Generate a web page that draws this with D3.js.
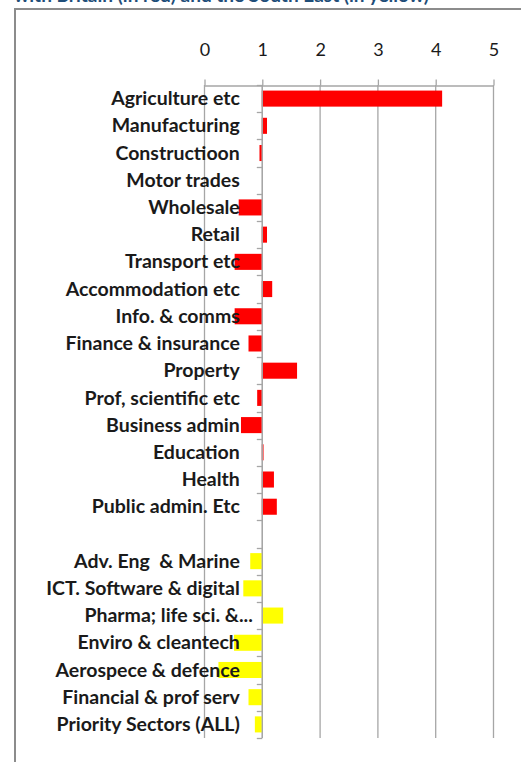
<!DOCTYPE html>
<html>
<head>
<meta charset="utf-8">
<script src="https://cdnjs.cloudflare.com/ajax/libs/d3/7.8.5/d3.min.js"></script>
<style>
    html, body { margin: 0; padding: 0; background: #fff; }
    svg { display: block; }
    .label { white-space: pre; }
</style>
</head>
<body>
<svg id="chart" width="521" height="762"></svg>
<script>
    var titleText = 'with Britain (in red) and the South East (in yellow)';

    var industryNames = [
        'Agriculture etc', 'Manufacturing', 'Constructioon', 'Motor trades',
        'Wholesale', 'Retail', 'Transport etc', 'Accommodation etc',
        'Info. & comms', 'Finance & insurance', 'Property', 'Prof, scientific etc',
        'Business admin', 'Education', 'Health', 'Public admin. Etc'
    ];
    var industryValues = [
        4.12, 1.09, 0.96, 1.00,
        0.60, 1.09, 0.53, 1.18,
        0.53, 0.77, 1.61, 0.92,
        0.64, 1.03, 1.21, 1.26
    ];

    var sectorNames = [
        'Adv. Eng  & Marine', 'ICT. Software & digital', 'Pharma; life sci. &...',
        'Enviro & cleantech', 'Aerospece & defence', 'Financial & prof serv',
        'Priority Sectors (ALL)'
    ];
    var sectorValues = [0.80, 0.68, 1.37, 0.52, 0.25, 0.77, 0.88];

    var axisTicks = [0, 1, 2, 3, 4, 5];
    var baseline = 1;

    var gridColor = '#a6a6a6',
        textColor = '#1a1a1a';

    var rows = [];
    industryNames.forEach(function(name, i) {
        rows.push({key: 'i' + i, name: name, value: industryValues[i], fill: '#ff0000'});
    });
    rows.push({key: 'gap', name: '', value: null});
    sectorNames.forEach(function(name, i) {
        rows.push({key: 's' + i, name: name, value: sectorValues[i], fill: '#ffff00'});
    });

    var svg = d3.select('#chart');

    var x = d3.scaleLinear().domain([0, 5]).range([204, 493]);
    var y = d3.scaleBand()
        .domain(rows.map(function(d) { return d.key; }))
        .range([85, 738])
        .paddingInner(0.41)
        .paddingOuter(0.205);

    // title, cut off by the top edge as in the source
    svg.append('text')
        .attr('x', 14)
        .attr('y', 2)
        .attr('fill', '#1f4e79')
        .attr('font-family', 'Lato, sans-serif')
        .attr('font-weight', 'bold')
        .attr('font-size', 19)
        .text(titleText);

    // chart frame
    svg.append('rect')
        .attr('x', 15)
        .attr('y', 9)
        .attr('width', 560)
        .attr('height', 800)
        .attr('fill', 'none')
        .attr('stroke', '#8c8c8c')
        .attr('stroke-width', 2);

    // vertical gridlines
    svg.append('g')
        .selectAll('line')
        .data(axisTicks)
        .enter()
        .append('line')
            .attr('x1', function(d) { return x(d) + 0.5; })
            .attr('x2', function(d) { return x(d) + 0.5; })
            .attr('y1', y.range()[0])
            .attr('y2', y.range()[1])
            .attr('stroke', gridColor)
            .attr('stroke-width', 1.3);

    // top value axis
    var axis = svg.append('g')
        .attr('transform', 'translate(0.5,' + (y.range()[0] + 0.5) + ')')
        .call(d3.axisTop(x)
            .tickValues(axisTicks)
            .tickFormat(d3.format('d'))
            .tickSize(6)
            .tickSizeOuter(0)
            .tickPadding(24));
    axis.select('.domain').attr('stroke', gridColor).attr('stroke-width', 1.3);
    axis.selectAll('.tick line').attr('stroke', gridColor).attr('stroke-width', 1.3);
    axis.selectAll('.tick text')
        .attr('fill', textColor)
        .attr('font-family', 'Lato, sans-serif')
        .attr('font-size', 18);

    // bars measured from the baseline of 1
    svg.append('g')
        .selectAll('rect')
        .data(rows.filter(function(d) { return d.value !== null; }))
        .enter()
        .append('rect')
            .attr('x', function(d) { return x(Math.min(d.value, baseline)); })
            .attr('y', function(d) { return y(d.key); })
            .attr('width', function(d) { return Math.abs(x(d.value) - x(baseline)); })
            .attr('height', y.bandwidth())
            .attr('fill', function(d) { return d.fill; });

    // category axis with ticks between rows
    var step = y.step(),
        boundaries = d3.range(rows.length + 1).map(function(i) { return y.range()[0] + i * step; });

    svg.append('line')
        .attr('x1', x(baseline) + 0.5)
        .attr('x2', x(baseline) + 0.5)
        .attr('y1', y.range()[0])
        .attr('y2', y.range()[1])
        .attr('stroke', gridColor)
        .attr('stroke-width', 1.3);

    svg.append('g')
        .selectAll('line')
        .data(boundaries)
        .enter()
        .append('line')
            .attr('x1', x(baseline) - 5)
            .attr('x2', x(baseline) + 0.5)
            .attr('y1', function(d) { return Math.round(d) + 0.5; })
            .attr('y2', function(d) { return Math.round(d) + 0.5; })
            .attr('stroke', gridColor)
            .attr('stroke-width', 1.3);

    // category labels, drawn over the bars
    svg.append('g')
        .selectAll('text')
        .data(rows)
        .enter()
        .append('text')
            .attr('class', 'label')
            .attr('x', function(d) { return x(baseline) - (d.name.slice(-3) === '...' ? 9 : 22); })
            .attr('y', function(d) { return y(d.key) + y.bandwidth() / 2; })
            .attr('dy', '0.34em')
            .attr('text-anchor', 'end')
            .attr('fill', textColor)
            .attr('font-family', 'Lato, sans-serif')
            .attr('font-weight', 'bold')
            .attr('font-size', 19.5)
            .text(function(d) { return d.name; });
</script>
</body>
</html>
